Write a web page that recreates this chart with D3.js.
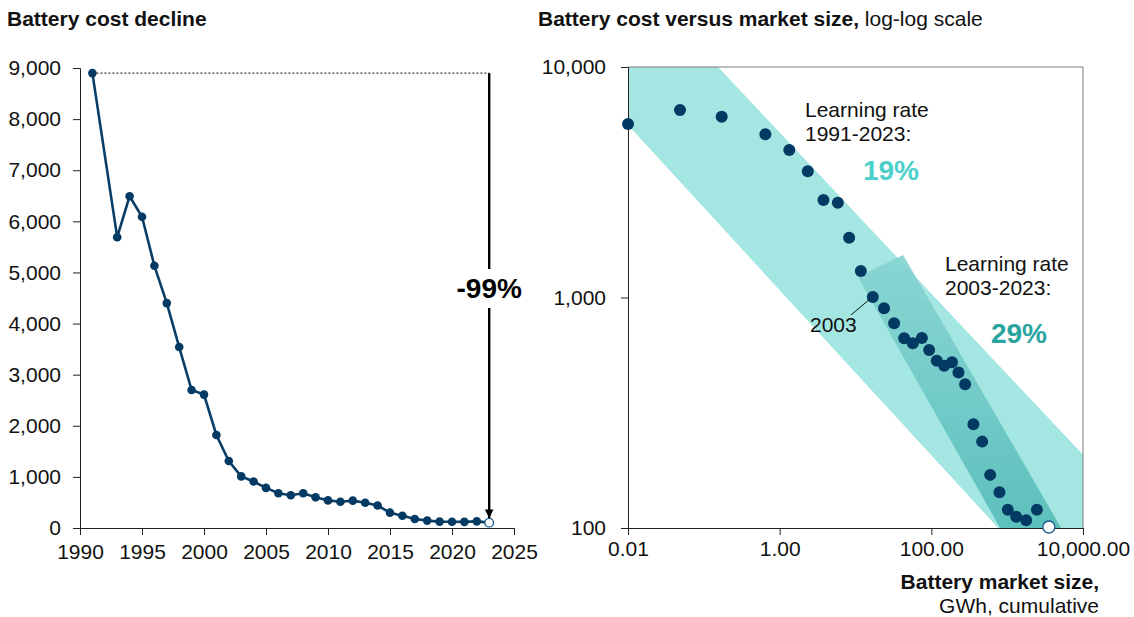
<!DOCTYPE html>
<html><head><meta charset="utf-8">
<script src="https://cdn.jsdelivr.net/npm/d3@7"></script>
<style>
body{margin:0;background:#fff;}
svg{font-family:"Liberation Sans",Arial,sans-serif;}
</style></head>
<body><svg id="c" width="1134" height="617"></svg>
<script>
// ---------- data ----------
const leftYears = [1991,1993,1994,1995,1996,1997,1998,1999,2000,2001,2002,2003,2004,2005,2006,2007,2008,2009,2010,2011,2012,2013,2014,2015,2016,2017,2018,2019,2020,2021,2022,2023];
const leftCost  = [8900,5690,6490,6090,5130,4400,3540,2700,2610,1820,1310,1010,910,785,680,640,680,600,540,515,535,495,440,300,240,176,145,125,122,120,130,105];
const leftYTicks = [0,1000,2000,3000,4000,5000,6000,7000,8000,9000];
const leftXTicks = [1990,1995,2000,2005,2010,2015,2020,2025];

const marketSize = [0.01,0.0485,0.172,0.648,1.34,2.35,3.78,5.85,8.24,11.75,16.9,23.8,32.3,43.8,57,75,93.6,118,148,187,228,279,359,468,597,791,1020,1315,1782,2466,3548];
const rightCost  = [5660,6510,6085,5108,4365,3527,2650,2578,1815,1303,1004,898,774,665,633,667,592,532,506,524,473,420,282,237,170,143,120,112,108,120,101];
const rightXTicks = [0.01,1,100,10000];
const rightYTicks = [100,1000,10000];
// learning-rate bands (corners in data units: [market size, cost])
const band1991 = [[0.01,10000],[0.154,10000],[10000,208],[10000,100],[760,100],[0.01,5600]];
const band2003 = [[10.8,1228],[42.5,1528],[5150,100],[809,100]];

// ---------- drawing ----------
const svg = d3.select("#c");
const ink = "#111";
const navy = "#033a63";
const FS = 21;

// titles
svg.append("text").attr("x",7).attr("y",26).attr("font-size",FS).attr("font-weight","bold").attr("fill",ink).text("Battery cost decline");
const t2 = svg.append("text").attr("x",538).attr("y",26).attr("font-size",FS).attr("fill",ink);
t2.append("tspan").attr("font-weight","bold").text("Battery cost versus market size,");
t2.append("tspan").text(" log-log scale");

// ----- left chart -----
const xL = d3.scaleLinear().domain([1990,2025]).range([80,514]);
const yL = d3.scaleLinear().domain([0,9000]).range([528,68]);

const gLy = svg.append("g").attr("transform","translate(80,0)")
  .call(d3.axisLeft(yL).tickValues(leftYTicks).tickFormat(d3.format(",")).tickSize(7).tickPadding(12));
const gLx = svg.append("g").attr("transform","translate(0,528)")
  .call(d3.axisBottom(xL).tickValues(leftXTicks).tickFormat(d3.format("d")).tickSize(7).tickPadding(9));
[gLy,gLx].forEach(g=>{
  g.selectAll("text").attr("font-size",FS).attr("fill",ink).attr("font-family","Liberation Sans, Arial, sans-serif");
  g.selectAll("path,line").attr("stroke","#222");
});

// dotted reference
svg.append("line").attr("x1",xL(leftYears[0])).attr("x2",xL(2023))
  .attr("y1",yL(leftCost[0])).attr("y2",yL(leftCost[0]))
  .attr("stroke","#000").attr("stroke-width",1).attr("stroke-dasharray","2,2");

// line
const lineL = d3.line().x((d,i)=>xL(leftYears[i])).y(d=>yL(d));
svg.append("path").datum(leftCost).attr("d",lineL).attr("fill","none").attr("stroke","#0b3e66").attr("stroke-width",2.6);
svg.selectAll(".ldot").data(leftCost).enter().append("circle")
  .attr("cx",(d,i)=>xL(leftYears[i])).attr("cy",d=>yL(d)).attr("r",4.3)
  .attr("fill",(d,i)=> i===leftCost.length-1 ? "#fff" : navy)
  .attr("stroke",(d,i)=> i===leftCost.length-1 ? "#1d5a8a" : "none").attr("stroke-width",1.3);
const nL = leftCost.length-1;

// arrow
const ax = xL(2023);
const defs = svg.append("defs");
defs.append("marker").attr("id","ah").attr("viewBox","0 0 10 10").attr("refX",10).attr("refY",5)
  .attr("markerWidth",3.6).attr("markerHeight",4.2).attr("markerUnits","strokeWidth").attr("orient","auto")
  .append("path").attr("d","M0,0 L10,5 L0,10 z").attr("fill","#000");
svg.append("line").attr("x1",ax).attr("x2",ax).attr("y1",yL(leftCost[0])).attr("y2",269).attr("stroke","#000").attr("stroke-width",2.4);
svg.append("line").attr("x1",ax).attr("x2",ax).attr("y1",308).attr("y2",yL(leftCost[nL])-4.5).attr("stroke","#000").attr("stroke-width",2.4).attr("marker-end","url(#ah)");
svg.append("text").attr("x",ax).attr("y",298).attr("text-anchor","middle").attr("font-size",28).attr("font-weight","bold").attr("fill","#000").text("-99%");

// ----- right chart -----
const xR = d3.scaleLog().domain([0.01,10000]).range([628,1083]);
const yR = d3.scaleLog().domain([100,10000]).range([528,67]);

defs.append("clipPath").attr("id","plotR").append("rect").attr("x",628).attr("y",67).attr("width",455).attr("height",461);
const grad = defs.append("linearGradient").attr("id","g2003").attr("x1",0).attr("y1",0).attr("x2",0).attr("y2",1);
grad.append("stop").attr("offset","0%").attr("stop-color","#86d4d1");
grad.append("stop").attr("offset","100%").attr("stop-color","#56bcb9");

const bandLine = d3.line().x(d=>xR(d[0])).y(d=>yR(d[1]));
const gb = svg.append("g").attr("clip-path","url(#plotR)");
gb.append("path").datum(band1991).attr("d",d=>bandLine(d)+"Z").attr("fill","#a4e6e2");
gb.append("path").datum(band2003).attr("d",d=>bandLine(d)+"Z").attr("fill","url(#g2003)").attr("fill-opacity",0.9);

// frame
svg.append("line").attr("x1",628).attr("x2",1083).attr("y1",67).attr("y2",67).attr("stroke","#7a7a7a");
svg.append("line").attr("x1",1083).attr("x2",1083).attr("y1",67).attr("y2",528).attr("stroke","#7a7a7a");

const gRy = svg.append("g").attr("transform","translate(628,0)")
  .call(d3.axisLeft(yR).tickValues(rightYTicks).tickFormat(d3.format(",")).tickSize(7).tickPadding(15));
const gRx = svg.append("g").attr("transform","translate(0,528)")
  .call(d3.axisBottom(xR).tickValues(rightXTicks).tickFormat(d3.format(",.2f")).tickSize(7).tickPadding(6));
[gRy,gRx].forEach(g=>{
  g.selectAll("text").attr("font-size",FS).attr("fill",ink).attr("font-family","Liberation Sans, Arial, sans-serif");
  g.selectAll("path,line").attr("stroke","#222");
});

// dots
svg.selectAll(".rdot").data(rightCost).enter().append("circle")
  .attr("cx",(d,i)=>xR(marketSize[i])).attr("cy",d=>yR(d)).attr("r",6)
  .attr("fill",(d,i)=> i===rightCost.length-1 ? "#fff" : navy)
  .attr("stroke",(d,i)=> i===rightCost.length-1 ? "#1d5a8a" : "none").attr("stroke-width",1.3);

// annotations
const a1 = svg.append("text").attr("font-size",FS).attr("fill",ink);
a1.append("tspan").attr("x",805).attr("y",117).text("Learning rate");
a1.append("tspan").attr("x",805).attr("y",141).text("1991-2023:");
svg.append("text").attr("x",891).attr("y",180).attr("text-anchor","middle").attr("font-size",28).attr("font-weight","bold").attr("fill","#4ccfca").text("19%");

const a2 = svg.append("text").attr("font-size",FS).attr("fill",ink);
a2.append("tspan").attr("x",945).attr("y",271).text("Learning rate");
a2.append("tspan").attr("x",945).attr("y",295).text("2003-2023:");
svg.append("text").attr("x",1019).attr("y",343).attr("text-anchor","middle").attr("font-size",28).attr("font-weight","bold").attr("fill","#2aa49e").text("29%");

// 2003 label
svg.append("line").attr("x1",851).attr("y1",315).attr("x2",xR(marketSize[10])-3).attr("y2",yR(rightCost[10])+2).attr("stroke","#111").attr("stroke-width",1);
svg.append("text").attr("x",810).attr("y",332).attr("font-size",FS).attr("fill",ink).text("2003");

// x axis title
svg.append("text").attr("x",1099).attr("y",589).attr("text-anchor","end").attr("font-size",FS).attr("font-weight","bold").attr("fill",ink).text("Battery market size,");
svg.append("text").attr("x",1099).attr("y",613).attr("text-anchor","end").attr("font-size",FS).attr("fill",ink).text("GWh, cumulative");
</script></body></html>
